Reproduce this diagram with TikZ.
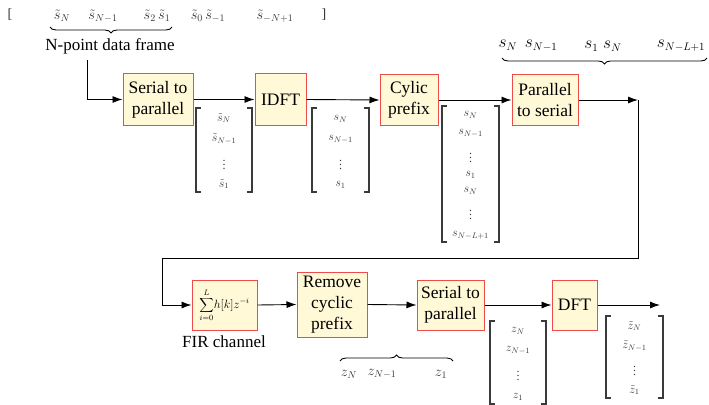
\documentclass[tikz,border=0pt]{standalone}
\usepackage{fontspec}
\setmainfont{Liberation Serif}
\newfontfamily\tms{Liberation Serif}
\usetikzlibrary{arrows.meta,decorations.pathreplacing}
\definecolor{boxfill}{HTML}{FFF9D8}
\definecolor{boxdraw}{HTML}{EE4B4B}
\definecolor{mgray}{HTML}{3A3A3A}
\begin{document}
\begin{tikzpicture}[x=1pt,y=-1pt,
  blockbox/.style={draw=boxdraw, fill=boxfill, line width=1pt, align=center,
    font=\tms\fontsize{17.5}{21}\selectfont, inner sep=0pt},
  flow/.style={-{Latex[length=10pt,width=7pt]}, line width=0.9pt},
  matframe/.style={draw=none, inner sep=0pt, outer sep=0pt},
  bracket/.style={line width=1.1pt, draw=mgray},
  ent/.style={font=\fontsize{12}{14}\selectfont, text=mgray, inner sep=0pt},
  dts/.style={font=\fontsize{12}{12}\selectfont, text=mgray, inner sep=0pt},
  seq/.style={font=\fontsize{14}{16}\selectfont, text=black!80, inner sep=0pt},
  brc/.style={decorate, decoration={brace, amplitude=6pt}, line width=0.9pt},
  lab/.style={font=\tms\fontsize{17}{20}\selectfont, inner sep=0pt}]
\useasboundingbox (0,0) rectangle (709,404);

% top sequence
\node[seq] (lb) at (10,15) {\tms [};
\node[seq] (t1) at (62,16) {$\tilde s_N$};
\node[seq] (t2) at (103,16) {$\tilde s_{N-1}$};
\node[seq] (t3) at (157,16) {$\tilde s_2\,\tilde s_1$};
\node[seq] (t4) at (208,16) {$\tilde s_0\,\tilde s_{-1}$};
\node[seq] (t5) at (275,16) {$\tilde s_{-N+1}$};
\node[seq] (rb) at (324,15) {\tms ]};
\coordinate (b1l) at (50,27);
\coordinate (b1r) at (172,27);
\draw[brc, decoration={mirror}] (b1l) -- (b1r);
\node[lab] (nlab) at (110,46) {N-point data frame};

% top row blocks
\node[blockbox, minimum width=70, minimum height=52] (s2p1) at (158,99.5) {Serial to\\parallel};
\node[blockbox, minimum width=51, minimum height=52] (idft) at (280.5,99.5) {IDFT};
\node[blockbox, minimum width=58, minimum height=51] (cp) at (409,100) {Cylic\\prefix};
\node[blockbox, minimum width=66, minimum height=51] (p2s) at (545,100) {Parallel\\to serial};

\coordinate (a0) at (87,60);
\draw[flow] (a0) |- (s2p1.west);
\draw[flow] (s2p1.east) -- (idft.west);
\draw[flow] (idft.east) -- (cp.west);
\draw[flow] (cp.east) -- (p2s.west);
\coordinate (c1) at (638,100);
\coordinate (c2) at (638,258);
\coordinate (c3) at (162,258);
\draw[flow] (p2s.east) -- (c1);

% top right sequence
\node[font=\fontsize{16}{18}\selectfont, inner sep=0pt] (r1) at (528,46) {$s_N\;\,s_{N-1}$};
\node[font=\fontsize{16}{18}\selectfont, inner sep=0pt] (r2) at (603,46) {$s_1\;s_N$};
\node[font=\fontsize{16}{18}\selectfont, inner sep=0pt] (r3) at (681,46) {$s_{N-L+1}$};
\coordinate (b2l) at (502,58);
\coordinate (b2r) at (707,58);
\draw[brc, decoration={mirror}] (b2l) -- (b2r);

% matrices top
\node[matframe, minimum width=56, minimum height=84] (m1) at (224,150) {};
\draw[bracket] ([xshift=5pt]m1.north west) -| (m1.south west) -- ++(5,0);
\draw[bracket] ([xshift=-5pt]m1.north east) -| (m1.south east) -- ++(-5,0);
\node[ent] (m1a) at (224,118) {$\tilde s_N$};
\node[ent] (m1b) at (224,139) {$\tilde s_{N-1}$};
\node[dts] (m1c) at (224,162) {$\vdots$};
\node[ent] (m1d) at (224,184) {$\tilde s_1$};

\node[matframe, minimum width=57, minimum height=84] (m2) at (340.5,150) {};
\draw[bracket] ([xshift=5pt]m2.north west) -| (m2.south west) -- ++(5,0);
\draw[bracket] ([xshift=-5pt]m2.north east) -| (m2.south east) -- ++(-5,0);
\node[ent] (m2a) at (340.5,119) {$s_N$};
\node[ent] (m2b) at (340.5,139) {$s_{N-1}$};
\node[dts] (m2c) at (340.5,162) {$\vdots$};
\node[ent] (m2d) at (340.5,185) {$s_1$};

\node[matframe, minimum width=57, minimum height=136] (m3) at (470.5,174) {};
\draw[bracket] ([xshift=5pt]m3.north west) -| (m3.south west) -- ++(5,0);
\draw[bracket] ([xshift=-5pt]m3.north east) -| (m3.south east) -- ++(-5,0);
\node[ent] (m3a) at (470.5,115) {$s_N$};
\node[ent] (m3b) at (470.5,133) {$s_{N-1}$};
\node[dts] (m3c) at (470.5,155) {$\vdots$};
\node[ent] (m3d) at (470.5,175) {$s_1$};
\node[ent] (m3e) at (470.5,191) {$s_N$};
\node[dts] (m3f) at (470.5,212) {$\vdots$};
\node[ent] (m3g) at (470.5,235) {$s_{N-L+1}$};

% bottom row blocks
\node[blockbox, minimum width=65, minimum height=50] (fir) at (224.5,305)
  {\fontsize{12}{14}\selectfont$\displaystyle\sum_{i=0}^{L}\! h[k]z^{-i}$};
\node[blockbox, minimum width=70, minimum height=65] (rcp) at (332,304.5) {Remove\\cyclic\\prefix};
\node[blockbox, minimum width=67, minimum height=50] (s2p2) at (450.5,305) {Serial to\\parallel};
\node[blockbox, minimum width=45, minimum height=50] (dft) at (574.5,305) {DFT};
\node[lab] (firlab) at (224,342) {FIR channel};

\draw[flow] (c1) -- (c2) -- (c3) |- (fir.west);
\draw[flow] (fir.east) -- (rcp.west);
\draw[flow] (rcp.east) -- (s2p2.west);
\draw[flow] (s2p2.east) -- (dft.west);
\coordinate (out) at (660,305);
\draw[flow] (dft.east) -- (out);

% lower brace
\coordinate (b3l) at (340,361);
\coordinate (b3r) at (453,361);
\draw[brc] (b3l) -- (b3r);
\node[seq] (z1) at (349,374) {$z_N$};
\node[seq] (z2) at (382,374) {$z_{N-1}$};
\node[seq] (z3) at (441,374) {$z_1$};

% matrices bottom
\node[matframe, minimum width=56, minimum height=83] (m4) at (518,362.5) {};
\draw[bracket] ([xshift=5pt]m4.north west) -| (m4.south west) -- ++(5,0);
\draw[bracket] ([xshift=-5pt]m4.north east) -| (m4.south east) -- ++(-5,0);
\node[ent] (m4a) at (518,331) {$z_N$};
\node[ent] (m4b) at (518,350) {$z_{N-1}$};
\node[dts] (m4c) at (518,373) {$\vdots$};
\node[ent] (m4d) at (518,397) {$z_1$};

\node[matframe, minimum width=57, minimum height=82] (m5) at (634.5,357) {};
\draw[bracket] ([xshift=5pt]m5.north west) -| (m5.south west) -- ++(5,0);
\draw[bracket] ([xshift=-5pt]m5.north east) -| (m5.south east) -- ++(-5,0);
\node[ent] (m5a) at (634.5,326) {$\tilde z_N$};
\node[ent] (m5b) at (634.5,346) {$\tilde z_{N-1}$};
\node[dts] (m5c) at (634.5,368) {$\vdots$};
\node[ent] (m5d) at (634.5,390) {$\tilde z_1$};
\end{tikzpicture}
\end{document}
